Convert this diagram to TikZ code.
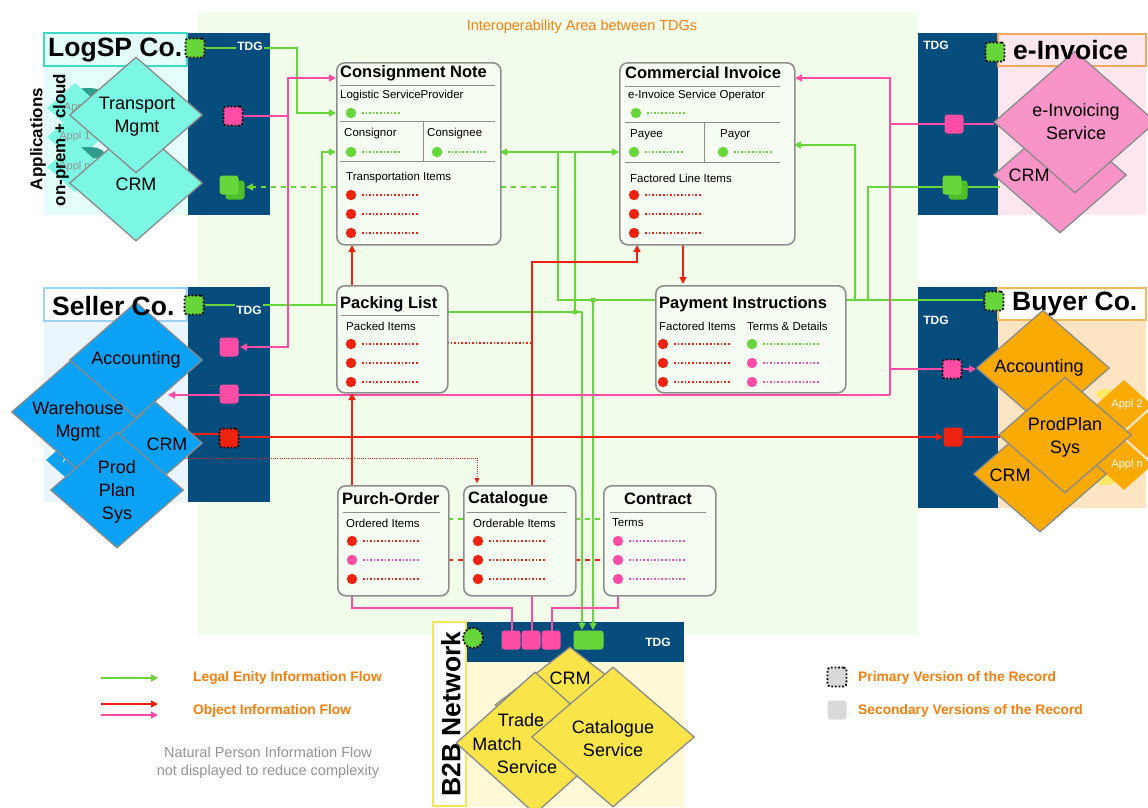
\documentclass[tikz,border=0pt]{standalone}
\usepackage{fontspec}
\setmainfont{Liberation Sans}
\usetikzlibrary{arrows.meta,shapes.geometric}

\definecolor{tdgblue}{HTML}{064C7C}
\definecolor{flowgreen}{HTML}{66D63A}
\definecolor{flowpink}{HTML}{FF4DA6}
\definecolor{flowred}{HTML}{EE2211}
\definecolor{noteorange}{HTML}{F57F0F}
\definecolor{interop}{HTML}{F1FCEB}
\definecolor{docfill}{HTML}{F6FDF2}
\definecolor{docline}{HTML}{8E8E8E}
\definecolor{diaedge}{HTML}{8A8A8A}
\definecolor{logspfill}{HTML}{E4FFFB}
\definecolor{logspedge}{HTML}{3FD9C8}
\definecolor{logspapp}{HTML}{7CF7E4}
\definecolor{logspdb}{HTML}{2E9E8C}
\definecolor{sellerfill}{HTML}{EAF5FF}
\definecolor{selleredge}{HTML}{9CD2F5}
\definecolor{sellerapp}{HTML}{0BA2F5}
\definecolor{einvfill}{HTML}{FFE6EF}
\definecolor{einvedge}{HTML}{F2A85C}
\definecolor{einvapp}{HTML}{F994C8}
\definecolor{buyerfill}{HTML}{FDE4C2}
\definecolor{buyeredge}{HTML}{F7B955}
\definecolor{buyerapp}{HTML}{FAAA04}
\definecolor{buyerdb}{HTML}{FFE866}
\definecolor{b2bfill}{HTML}{FFF9D8}
\definecolor{b2bedge}{HTML}{F7E45A}
\definecolor{b2bapp}{HTML}{F9E54A}
\definecolor{recgray}{HTML}{D9D9D9}
\definecolor{notegray}{HTML}{959595}
\definecolor{darkrec}{HTML}{4FC02A}

\tikzset{
  flow/.style={line width=1.5pt, -{Triangle[length=7pt,width=7pt]}},
  gflow/.style={flow, draw=flowgreen},
  pflow/.style={flow, draw=flowpink},
  rflow/.style={flow, draw=flowred},
  link/.style={line width=1.5pt},
  docbox/.style={draw=docline, line width=1.6pt, rounded corners=8pt, fill=docfill, anchor=north west, inner sep=0pt},
  doctitle/.style={font=\fontsize{16.5}{19}\selectfont\bfseries, anchor=west, inner sep=0pt},
  docfield/.style={font=\fontsize{11.5}{13}\selectfont, anchor=west, inner sep=0pt},
  rulel/.style={draw=docline, line width=1pt},
  tdglabel/.style={font=\fontsize{12}{14}\selectfont\bfseries, text=white, fill=tdgblue, inner sep=1.5pt},
  record/.style={minimum size=19pt, inner sep=0pt, rounded corners=3pt},
  primary/.style={record, draw=black, line width=1.8pt, dash pattern=on 1.8pt off 1.8pt},
  app/.style={diamond, draw=diaedge, line width=1.3pt, inner sep=0pt, minimum width=133pt, minimum height=116pt},
  mini/.style={diamond, inner sep=0pt, minimum width=56pt, minimum height=50pt},
  apptext/.style={font=\fontsize{18}{23}\selectfont, align=center, inner sep=0pt},
  coname/.style={font=\fontsize{26.5}{30}\selectfont\bfseries, inner sep=0pt},
  legendtext/.style={font=\fontsize{13.8}{16}\selectfont\bfseries, text=noteorange, anchor=west, inner sep=0pt},
}

% a record field: coloured bullet followed by a dotted value line
\newcommand\fieldrow[4]{%
  \fill[#3] (#1,#2) circle (5.2);
  \draw[#3, line width=1.5pt, dash pattern=on 1.5pt off 2.1pt] (#1+11,#2) -- (#1+11+#4,#2);}

\begin{document}
\begin{tikzpicture}[x=1pt,y=-1pt]
\useasboundingbox (0,0) rectangle (1148,807);
\fill[white] (0,0) rectangle (1148,807);

% ---------------- interoperability area ----------------
\fill[interop] (198,12) rectangle (918,635);
\node[font=\fontsize{14.5}{16}\selectfont, text=noteorange] (areatitle) at (582,27) {Interoperability Area between TDGs};

% ---------------- company frames ----------------
% LogSP
\fill[logspfill] (44,66) rectangle (188,215);
\fill[tdgblue] (188,33) rectangle (270,215);
\draw[logspedge, line width=1.2pt, fill=logspfill] (44,33) rectangle (187,66);
% Seller
\fill[sellerfill] (44,321) rectangle (188,502);
\fill[tdgblue] (188,287) rectangle (270,502);
\draw[selleredge, line width=1.2pt, fill=white] (44,288) rectangle (187,321);
% e-Invoice
\fill[einvfill] (998,66) rectangle (1146,215);
\fill[tdgblue] (918,33) rectangle (998,215);
\draw[einvedge, line width=1.2pt, fill=einvfill] (998,34) rectangle (1146,66);
% Buyer
\fill[buyerfill] (998,320) rectangle (1146,508);
\fill[tdgblue] (918,287) rectangle (998,508);
\draw[buyeredge, line width=1.2pt, fill=white] (998,288) rectangle (1146,320);
% B2B network
\fill[b2bfill] (466,662) rectangle (684,807);
\fill[tdgblue] (466,622) rectangle (684,662);
\draw[b2bedge, line width=1.2pt, fill=white] (433,622) rectangle (466,806);

% ---------------- connectors (drawn below the boxes) ----------------
% legal entity flows
\draw[gflow] (205,48) -- (297,48) |- (336,113);
\draw[gflow] (205,305) -- (322,305) |- (336,152);
\draw[link, flowgreen] (322,305) -- (336,305);
\draw[gflow] (983,300) -- (558,300) |- (500,152);
\draw[gflow] (558,152) -- (619,152);
\draw[gflow] (855,300) |- (794,145);
\draw[link, flowgreen] (944,187) -- (868,187) -- (868,300);
\draw[link, flowgreen] (962,187) -- (1000,187);
\draw[gflow] (593,300) -- (593,630);
\fill[flowgreen] (593,300) circle (2.5);
\draw[link, flowgreen] (447,312) -- (582,312);
\draw[link, flowgreen] (575,152) -- (575,312);
\fill[flowgreen] (575,312) circle (2.5);
\draw[gflow] (582,312) -- (582,630);
\draw[gflow, dash pattern=on 5pt off 5pt] (556,187) -- (246,187);

% object flows
\draw[link, flowpink] (243,116) -- (288,116);
\draw[pflow] (288,116) |- (336,78);
\draw[pflow] (288,116) |- (240,347);
\draw[link, flowpink] (945,124) -- (890,124);
\draw[pflow] (890,124) |- (795,78);
\draw[link, flowpink] (964,124) -- (994,124);
\draw[link, flowpink] (890,124) -- (890,395);
\draw[link, flowpink] (890,369) -- (942,369);
\draw[pflow] (963,369) -- (976,369);
\draw[pflow] (890,395) -- (168,395);

\draw[link, flowred] (122,434) -- (219,434);
\draw[rflow] (240,437) -- (943,437);
\draw[link, flowred] (963,437) -- (1000,437);
\draw[flowred, line width=0.8pt, dash pattern=on 1pt off 1.2pt] (75,458) -- (477,458);
\draw[flowred, line width=0.8pt, dash pattern=on 1pt off 1.2pt, -{Triangle[length=5pt,width=5pt]}] (477,458) -- (477,483);
\draw[rflow] (352,485) -- (352,393);
\draw[rflow] (352,285) -- (352,245);
\draw[rflow] (532,485) |- (637,262) -- (637,245);
\draw[rflow] (683,244) -- (683,284);
\draw[flowred, line width=1.5pt, dash pattern=on 1.5pt off 2.1pt] (447,343) -- (530,343);

\draw[link, flowpink] (352,595) |- (512,608) -- (512,631);
\draw[link, flowpink] (532,595) -- (532,631);
\draw[link, flowpink] (618,595) |- (552,608) -- (552,631);

\draw[flowgreen, line width=1.4pt, dash pattern=on 5pt off 5pt] (448,519) -- (463,519) (575,519) -- (603,519);
\draw[flowred, line width=1.4pt, dash pattern=on 5pt off 5pt] (448,560) -- (463,560) (575,560) -- (603,560);

% ---------------- business records ----------------
% Consignment Note
\node[docbox, minimum width=164pt, minimum height=182pt] (cn) at (336,62) {};
\node[doctitle] (cnT) at (340,73) {Consignment Note};
\draw[rulel] (340,85) -- (495,85);
\node[docfield] (cnF1) at (340,96) {Logistic ServiceProvider};
\fieldrow{351}{113}{flowgreen}{38}
\draw[rulel] (340,121) -- (495,121);
\draw[rulel] (423,121) -- (423,161);
\node[docfield] (cnF2) at (344,134) {Consignor};
\node[docfield] (cnF3) at (427,134) {Consignee};
\fieldrow{351}{152}{flowgreen}{38}
\fieldrow{437}{152}{flowgreen}{38}
\draw[rulel] (340,161) -- (495,161);
\node[docfield] (cnF4) at (346,178) {Transportation Items};
\fieldrow{351}{195}{flowred}{57}
\fieldrow{351}{214}{flowred}{57}
\fieldrow{351}{233}{flowred}{57}

% Commercial Invoice
\node[docbox, minimum width=175pt, minimum height=182pt] (ci) at (619,62) {};
\node[doctitle] (ciT) at (625,73) {Commercial Invoice};
\draw[rulel] (625,86) -- (780,86);
\node[docfield] (ciF1) at (628,96) {e-Invoice Service Operator};
\fieldrow{636}{113}{flowgreen}{38}
\draw[rulel] (625,122) -- (780,122);
\draw[rulel] (704,122) -- (704,162);
\node[docfield] (ciF2) at (630,135) {Payee};
\node[docfield] (ciF3) at (720,135) {Payor};
\fieldrow{634}{152}{flowgreen}{38}
\fieldrow{723}{152}{flowgreen}{38}
\draw[rulel] (625,162) -- (780,162);
\node[docfield] (ciF4) at (630,178) {Factored Line Items};
\fieldrow{634}{195}{flowred}{57}
\fieldrow{634}{214}{flowred}{57}
\fieldrow{634}{233}{flowred}{57}

% Packing List
\node[docbox, minimum width=111pt, minimum height=107pt] (pl) at (336,285) {};
\node[doctitle] (plT) at (340,304) {Packing List};
\draw[rulel] (341,315) -- (439,315);
\node[docfield] (plF1) at (346,326) {Packed Items};
\fieldrow{351}{344}{flowred}{57}
\fieldrow{351}{363}{flowred}{57}
\fieldrow{351}{382}{flowred}{57}

% Payment Instructions
\node[docbox, minimum width=190pt, minimum height=107pt] (pi) at (655,285) {};
\node[doctitle] (piT) at (659,304) {Payment Instructions};
\node[docfield] (piF1) at (659,326) {Factored Items};
\node[docfield] (piF2) at (747,326) {Terms \& Details};
\fieldrow{663}{344}{flowred}{57}
\fieldrow{663}{363}{flowred}{57}
\fieldrow{663}{382}{flowred}{57}
\fieldrow{752}{344}{flowgreen}{57}
\fieldrow{752}{363}{flowpink}{57}
\fieldrow{752}{382}{flowpink}{57}

% Purch-Order
\node[docbox, minimum width=111pt, minimum height=110pt] (po) at (337,485) {};
\node[doctitle] (poT) at (342,499) {Purch-Order};
\draw[rulel] (343,512) -- (440,512);
\node[docfield] (poF1) at (346,523) {Ordered Items};
\fieldrow{352}{541}{flowred}{57}
\fieldrow{352}{560}{flowpink}{57}
\fieldrow{352}{579}{flowred}{57}

% Catalogue
\node[docbox, minimum width=112pt, minimum height=110pt] (ca) at (463,485) {};
\node[doctitle] (caT) at (468,499) {Catalogue};
\draw[rulel] (467,512) -- (567,512);
\node[docfield] (caF1) at (473,523) {Orderable Items};
\fieldrow{478}{541}{flowred}{57}
\fieldrow{478}{560}{flowred}{57}
\fieldrow{478}{579}{flowred}{57}

% Contract
\node[docbox, minimum width=112pt, minimum height=110pt] (co) at (603,485) {};
\node[doctitle, anchor=center] (coT) at (658,499) {Contract};
\draw[rulel] (610,512) -- (706,512);
\node[docfield] (coF1) at (612,523) {Terms};
\fieldrow{618}{541}{flowpink}{57}
\fieldrow{618}{560}{flowpink}{57}
\fieldrow{618}{579}{flowpink}{57}

% ---------------- applications: LogSP ----------------
\foreach \yy/\lab in {108/Appl, 137/Appl 1, 167/Appl n}{
  \fill[logspdb] (88,\yy-14) ellipse (16 and 6);
  \node[mini, fill=logspapp, font=\fontsize{11}{12}\selectfont, text=notegray] at (75,\yy) {\lab};
}
\node[app, fill=logspapp] (lsCRM) at (136,183) {};
\node[app, fill=logspapp] (lsTM) at (136,115) {};
\node[apptext] (lsTMt) at (137,117) {Transport\\Mgmt};
\node[apptext] (lsCRMt) at (136,184) {CRM};
\node[font=\fontsize{17}{20}\selectfont\bfseries, rotate=90] (lsA1) at (38,139) {Applications};
\node[font=\fontsize{17}{20}\selectfont\bfseries, rotate=90] (lsA2) at (61,140) {on-prem + cloud};
\node[coname, anchor=west] (lsName) at (48,50) {LogSP Co.};

% ---------------- applications: Seller ----------------
\node[mini, fill=sellerapp, font=\fontsize{11}{12}\selectfont, text=white] (slAp) at (74,460) {Appl};
\node[app, fill=sellerapp] (slCRM) at (136,443) {};
\node[app, fill=sellerapp] (slWM) at (78,412) {};
\node[app, fill=sellerapp] (slAcc) at (136,360) {};
\node[app, fill=sellerapp] (slPP) at (117,490) {};
\node[apptext] (slAcct) at (136,360) {Accounting};
\node[apptext] (slWMt) at (78,421) {Warehouse\\Mgmt};
\node[apptext] (slCRMt) at (167,444) {CRM};
\node[apptext] (slPPt) at (117,492) {Prod\\Plan\\Sys};
\node[coname, anchor=west] (slName) at (52,306) {Seller Co.};

% ---------------- applications: e-Invoice ----------------
\node[app, fill=einvapp] (eiCRM) at (1060,175) {};
\node[app, fill=einvapp, minimum width=162pt, minimum height=142pt] (eiSvc) at (1075,122) {};
\node[apptext] (eiSvct) at (1076,122) {e-Invoicing\\Service};
\node[apptext] (eiCRMt) at (1029,175) {CRM};
\node[coname, anchor=west] (eiName) at (1013,50) {e-Invoice};

% ---------------- applications: Buyer ----------------
\fill[buyerdb] (1106,394) ellipse (10 and 5);
\fill[buyerdb] (1106,480) ellipse (10 and 5);
\node[mini, fill=buyerapp, font=\fontsize{11}{12}\selectfont, text=white] (byA2) at (1124,405) {\ \ Appl 2};
\node[mini, fill=buyerapp] (byA3) at (1150,435) {};
\node[mini, fill=buyerapp, font=\fontsize{11}{12}\selectfont, text=white] (byAn) at (1124,465) {\ \ Appl n};
\node[app, fill=buyerapp] (byCRM) at (1040,474) {};
\node[app, fill=buyerapp] (byAcc) at (1043,368) {};
\node[app, fill=buyerapp] (byPP) at (1065,435) {};
\node[apptext] (byAcct) at (1039,368) {Accounting};
\node[apptext] (byPPt) at (1065,437) {ProdPlan\\Sys};
\node[apptext] (byCRMt) at (1010,475) {CRM};
\node[coname, anchor=west] (byName) at (1012,304) {Buyer Co.};

% ---------------- applications: B2B network ----------------
\node[app, fill=b2bapp, minimum width=150pt] (bbCRM) at (570,705) {};
\node[app, fill=b2bapp, minimum width=158pt, minimum height=142pt] (bbTM) at (535,743) {};
\node[app, fill=b2bapp, minimum width=163pt, minimum height=140pt] (bbCS) at (613,737) {};
\node[apptext] (bbCRMt) at (570,678) {CRM};
\node[apptext] (bbTM1) at (521,720) {Trade};
\node[apptext] (bbTM2) at (497,744) {Match};
\node[apptext] (bbTM3) at (527,767) {Service};
\node[apptext] (bbCSt) at (613,739) {Catalogue\\Service};
\node[coname, rotate=90] (bbName) at (451,714) {B2B Network};

% ---------------- TDG labels and records ----------------
\node[tdglabel] (tdgL) at (250,46) {TDG};
\node[tdglabel] (tdgS) at (249,310) {TDG};
\node[tdglabel] (tdgE) at (936,45) {TDG};
\node[tdglabel] (tdgB) at (936,320) {TDG};
\node[tdglabel] (tdgN) at (658,642) {TDG};

\node[primary, fill=flowgreen] (lgG) at (195,48) {};
\node[primary, fill=flowpink] (lpP) at (233,116) {};
\node[record, fill=darkrec] (lgS2) at (235,190) {};
\node[record, fill=flowgreen] (lgS1) at (229,185) {};

\node[primary, fill=flowgreen] (sgG) at (194,305) {};
\node[record, fill=flowpink] (spA) at (229,347) {};
\node[record, fill=flowpink] (spB) at (229,394) {};
\node[primary, fill=flowred] (srR) at (229,438) {};

\node[primary, fill=flowgreen] (egG) at (995,52) {};
\node[record, fill=flowpink] (epP) at (954,124) {};
\node[record, fill=darkrec] (egS2) at (958,190) {};
\node[record, fill=flowgreen] (egS1) at (952,185) {};

\node[primary, fill=flowgreen] (bgG) at (994,301) {};
\node[primary, fill=flowpink] (bpP) at (952,369) {};
\node[record, fill=flowred] (brR) at (953,437) {};

\node[record, fill=flowpink] (npA) at (511,640) {};
\node[record, fill=flowpink] (npB) at (531,640) {};
\node[record, fill=flowpink] (npC) at (551,640) {};
\node[record, fill=flowgreen] (ngB) at (594,640) {};
\node[record, fill=flowgreen] (ngA) at (583,640) {};
\node[circle, minimum size=20pt, inner sep=0pt, fill=flowgreen, draw=black, line width=1.8pt, dash pattern=on 1.8pt off 1.8pt] (ngP) at (473,638) {};

% ---------------- legend ----------------
\coordinate (lgA1) at (101,678); \coordinate (lgA2) at (158,678);
\coordinate (lgB1) at (101,704); \coordinate (lgB2) at (158,704);
\coordinate (lgC1) at (101,715); \coordinate (lgC2) at (158,715);
\draw[gflow] (lgA1) -- (lgA2);
\draw[rflow] (lgB1) -- (lgB2);
\draw[pflow] (lgC1) -- (lgC2);
\node[legendtext] (lgAt) at (193,678) {Legal Enity Information Flow};
\node[legendtext] (lgBt) at (193,711) {Object Information Flow};
\node[font=\fontsize{14.5}{18}\selectfont, text=notegray, align=center] (lgNote) at (268,763) {Natural Person Information Flow\\not displayed to reduce complexity};
\node[primary, fill=recgray] (lgPr) at (837,677) {};
\node[record, fill=recgray] (lgSe) at (837,710) {};
\node[legendtext] (lgPrt) at (858,678) {Primary Version of the Record};
\node[legendtext] (lgSet) at (858,711) {Secondary Versions of the Record};
\end{tikzpicture}
\end{document}
